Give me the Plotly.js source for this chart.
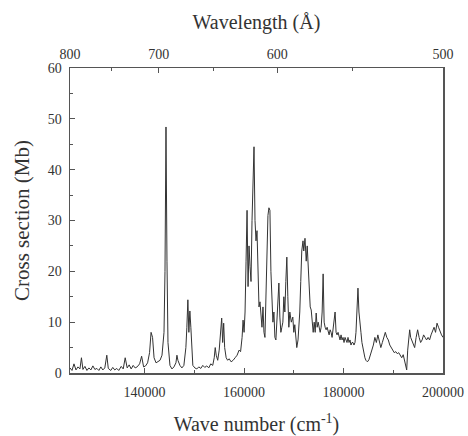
<!DOCTYPE html>
<html><head><meta charset="utf-8">
<script src="https://cdn.plot.ly/plotly-3.0.1.min.js"></script>
<style>html,body{margin:0;padding:0;background:#fff}#chart{width:468px;height:436px}</style>
</head><body><div id="chart"></div>
<script>
// Wave number (cm^-1)
const waveNumber = [125000,125400,125800,126200,126600,127000,127300,127600,128000,128400,128800,129200,129600,130000,130400,130800,131200,131600,132000,132400,132700,133200,133600,134000,134400,134800,135300,135700,136100,136500,136900,137300,137700,138100,138500,139000,139400,139800,140200,140600,141000,141300,141600,141900,142300,142700,143100,143500,143900,144100,144300,144500,144700,145100,145500,145900,146300,146500,146700,147100,147500,147900,148300,148500,148700,148900,149100,149300,149500,149700,150100,150500,150900,151300,151700,152100,152500,152900,153300,153700,154000,154200,154400,154700,155000,155300,155500,155700,155900,156100,156400,156700,157000,157400,157800,158200,158600,159000,159300,159600,159800,160000,160200,160400,160600,160800,161000,161200,161400,161600,161800,162000,162200,162400,162600,162800,163000,163200,163400,163600,163800,164000,164200,164400,164600,164800,165000,165200,165400,165600,165800,166000,166200,166400,166600,166800,167000,167200,167400,167600,167800,168000,168200,168400,168600,168800,169000,169200,169500,169800,170000,170200,170400,170600,170850,171000,171200,171400,171600,171850,172000,172250,172500,172700,172900,173100,173300,173500,173700,173900,174100,174300,174500,174700,174900,175100,175300,175500,175700,175900,176100,176300,176500,176700,176900,177100,177300,177500,177700,177900,178100,178300,178500,178700,178900,179100,179300,179500,179700,179900,180100,180300,180500,180700,180900,181100,181300,181500,181700,181900,182100,182300,182500,182700,182900,183100,183300,183500,183700,183900,184100,184300,184500,184800,185100,185400,185700,186000,186300,186600,186900,187200,187500,187800,188100,188400,188700,189000,189300,189600,189900,190200,190500,190800,191100,191400,191700,192000,192300,192500,192700,192900,193100,193300,193500,193700,194000,194300,194600,194900,195200,195500,195800,196100,196400,196700,197000,197300,197600,197900,198200,198500,198800,199100,199400,199700,200000];
// Cross section (Mb)
const crossSection = [1.0,0.5,1.8,0.6,1.2,0.8,3.0,0.7,1.3,0.5,1.0,0.6,1.4,0.7,0.9,0.5,1.2,0.6,1.0,3.5,0.9,0.5,1.1,0.6,0.9,0.5,1.3,0.8,3.0,1.0,1.6,0.8,1.5,1.0,1.2,1.8,3.3,1.2,1.4,2.0,4.0,8.0,7.0,3.0,2.0,2.2,2.5,3.5,8.0,20,48.4,22,6,1.5,0.8,1.2,2.0,3.5,2.5,1.5,1.0,1.5,5,9,14.4,8,12.2,9,3,1.5,1.0,0.8,1.2,0.9,1.5,1.1,1.4,1.0,1.8,1.5,3.0,5.0,3.5,2.5,4.5,9,10.8,6,9.8,5,3,2.5,2.8,2.2,2.5,3.0,3.5,4.5,4.2,7,10.4,8,12,22,32,17,25,21,18,30,38,44.5,30,26,28,22,13,14,12,9,13,8,7,15,24,31,32.5,32,20,13,10,12,7,6.5,10,14,17.7,11,8,9,10,15,12,18,22.8,15,9,12,10,11,8,9.5,7,5,6.5,9,12,18,24,26,24,26.5,22,25,21,17,13,12.4,9,8,10,8,11.8,9,10,9,8,9,12,19.5,10,9,8.5,9,8,7.5,8.5,8,7,8.5,10,12,8,7.5,8,7,6.5,7.5,6.5,7,6,7,6.5,6,7,6,6.5,5.5,6,6,5.5,6,8,12,16.7,12,9,8,6,5,3.5,3,2.5,2.2,2.6,3.5,4.5,5.5,7,6,7.5,6.5,5,6,7,8,7,6.5,5.5,5,4.5,4,4.2,3.8,4,3.5,3,3.6,2.5,1.5,0.6,4.5,6,8.5,7,6.5,5.5,5,7,8.5,7,6,6.5,7.5,7,6.5,7,6.5,7.5,8.5,9,8,9.8,9,8,7.5,7];
// Top axis wavelengths (Å)
const wavelengthMajor = [800,700,600,500];
const wavelengthMinor = [750,650,550];

const font = {family:'Times New Roman, Liberation Serif, DejaVu Serif, serif', color:'#333'};
const axisColor = '#555';

const traces = [
  {x: waveNumber, y: crossSection, type:'scatter', mode:'lines',
   line:{color:'#333', width:1}, hoverinfo:'skip', showlegend:false},
  {x: [waveNumber[0], waveNumber[waveNumber.length-1]], y:[0,0], xaxis:'x2', yaxis:'y',
   type:'scatter', mode:'lines', line:{color:'rgba(0,0,0,0)', width:0}, hoverinfo:'skip', showlegend:false}
];

const layout = {
  width:468, height:436,
  margin:{l:70, r:25, t:68, b:63},
  paper_bgcolor:'#fff', plot_bgcolor:'#fff',
  font: Object.assign({size:14}, font),
  showlegend:false,
  xaxis:{
    range:[125000,200000], showgrid:false, zeroline:false,
    showline:true, linecolor:axisColor, linewidth:1.5,
    ticks:'inside', ticklen:5, tickcolor:axisColor, tickwidth:1,
    tickvals:[140000,160000,180000,200000],
    ticktext:['140000','160000','180000','200000'],
    tickfont:Object.assign({size:14}, font),
    ticklabelstandoff:6,
    minor:{tickvals:[150000,170000,190000], ticks:'inside', ticklen:3, tickcolor:axisColor},
    title:{text:'Wave number (cm<sup>-1</sup>)', font:Object.assign({size:20}, font), standoff:29}
  },
  xaxis2:{
    overlaying:'x', side:'top', anchor:'y',
    range:[125000,200000], showgrid:false, zeroline:false,
    showline:true, linecolor:axisColor, linewidth:1.5,
    ticks:'inside', ticklen:5, tickcolor:axisColor, tickwidth:1,
    tickvals: wavelengthMajor.map(l => 1e8/l),
    ticktext: wavelengthMajor.map(l => String(l)),
    tickfont:Object.assign({size:14}, font),
    ticklabelstandoff:2,
    minor:{tickvals: wavelengthMinor.map(l => 1e8/l), ticks:'inside', ticklen:3, tickcolor:axisColor},
    title:{text:'Wavelength (Å)', font:Object.assign({size:20}, font), standoff:12}
  },
  yaxis:{
    range:[0,60], showgrid:false, zeroline:false,
    showline:true, linecolor:axisColor, linewidth:1.5, mirror:true,
    ticks:'inside', ticklen:5, tickcolor:axisColor, tickwidth:1,
    tickvals:[0,10,20,30,40,50,60],
    tickfont:Object.assign({size:14}, font),
    ticklabelstandoff:4,
    minor:{dtick:5, ticks:'inside', ticklen:3, tickcolor:axisColor},
    title:{text:'Cross section (Mb)', font:Object.assign({size:21}, font), standoff:12}
  }
};

Plotly.newPlot('chart', traces, layout, {staticPlot:true, displayModeBar:false});
</script>
</body></html>
